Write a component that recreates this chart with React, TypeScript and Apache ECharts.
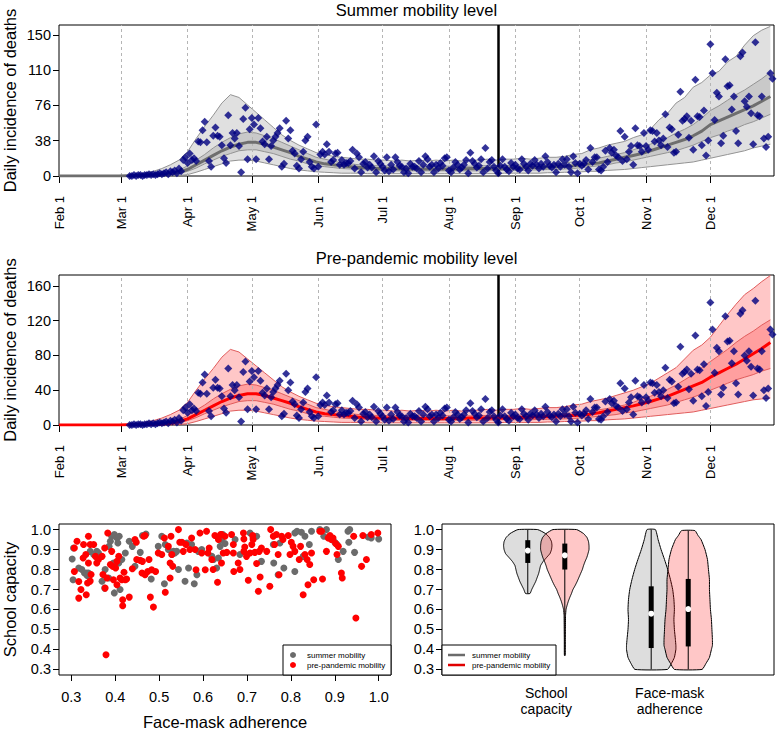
import { useEffect, useRef } from "react";
import * as echarts from "echarts";

const FONT = '"Liberation Sans", Arial, Helvetica, sans-serif';

// ---------- time axis ----------
const monthDays = [0, 29, 60, 90, 121, 151, 182, 213, 243, 274, 304];
const monthLabels = ["Feb 1", "Mar 1", "Apr 1", "May 1", "Jun 1", "Jul 1", "Aug 1", "Sep 1", "Oct 1", "Nov 1", "Dec 1"];
const interventionDay = 205;

const summerTickValues = [0, 37.75, 75.5, 113.25, 151];
const summerTickLabels = ["0", "38", "76", "110", "150"];
const prepTickValues = [0, 40, 80, 120, 160];
const prepTickLabels = ["0", "40", "80", "120", "160"];

// ---------- observed daily deaths (first value = day 33, i.e. Mar 5) ----------
const observedFirstDay = 33;
const observedDeaths = [
  0, 0, 1, 0, 1, 1, 0, 1, 1, 2,
  1, 2, 1, 2, 3, 2, 3, 4, 2, 5,
  4, 6, 3, 8, 5, 17, 20, 14, 24, 17,
  19, 16, 37, 36, 49, 58, 36, 16, 10, 43,
  52, 43, 42, 33, 19, 14, 65, 33, 46, 40,
  46, 32, 4, 61, 73, 18, 50, 62, 55, 18,
  62, 51, 37, 34, 42, 18, 32, 38, 42, 46,
  51, 10, 13, 59, 40, 49, 27, 24, 11, 8,
  18, 26, 38, 42, 15, 10, 8, 55, 10, 23,
  26, 23, 34, 26, 15, 17, 24, 25, 12, 17,
  12, 14, 14, 16, 28, 8, 24, 20, 4, 13,
  15, 9, 12, 9, 21, 4, 16, 13, 10, 6,
  20, 5, 12, 7, 20, 15, 11, 10, 4, 8,
  3, 13, 10, 10, 8, 16, 4, 12, 21, 18,
  10, 12, 4, 12, 8, 14, 11, 19, 20, 6,
  4, 9, 15, 12, 7, 9, 12, 17, 3, 25,
  16, 13, 9, 11, 18, 4, 30, 8, 15, 17,
  10, 6, 3, 11, 18, 10, 7, 5, 14, 10,
  12, 8, 7, 18, 13, 10, 6, 13, 11, 17,
  12, 8, 13, 10, 21, 15, 11, 9, 12, 4,
  13, 10, 18, 12, 18, 10, 4, 21, 14, 3,
  13, 11, 13, 17, 7, 30, 15, 20, 20, 7,
  6, 10, 27, 15, 30, 25, 28, 22, 20, 48,
  16, 42, 18, 26, 32, 12, 51, 33, 32, 26,
  46, 32, 28, 49, 48, 37, 46, 38, 33, 40,
  66, 31, 52, 50, 25, 26, 44, 90, 59, 61,
  64, 41, 59, 28, 103, 64, 63, 33, 70, 22,
  38, 141, 110, 60, 89, 85, 35, 43, 125, 96,
  97, 71, 85, 48, 35, 128, 132, 80, 74, 85,
  67, 34, 143, 65, 64, 85, 40, 31, 42, 110, 104,
];

// ---------- projection bands (days since Feb 1) ----------
const bandDays = [0, 28, 32, 36, 40, 44, 48, 52, 56, 60, 64, 68, 72, 76, 80, 84, 88, 92, 96, 100, 104, 108, 112, 116, 120, 124, 128, 132, 136, 140, 144, 148, 152, 156, 160, 164, 168, 172, 176, 180, 184, 188, 192, 196, 200, 204, 208, 212, 216, 220, 224, 228, 232, 236, 240, 244, 248, 252, 256, 260, 264, 268, 272, 276, 280, 284, 288, 292, 296, 300, 304, 308, 312, 316, 320, 324, 328, 332];

const summerMed = [0, 0, 0.2, 0.3, 0.5, 0.8, 1.2, 2, 4, 7, 12, 17, 22, 27, 31, 34, 36, 36, 34, 31, 28, 25, 21, 18, 15, 13, 12, 11, 10, 9, 9, 8, 8, 8, 7.5, 7.5, 7.5, 7.5, 7.5, 7.5, 7.5, 7.5, 8, 8, 8, 8, 8, 8.5, 8.5, 9, 9, 9.5, 10, 10.5, 11, 12, 13, 14, 16, 18, 20, 22, 24, 27, 30, 33, 36, 39, 43, 48, 55, 59, 63, 67, 71, 75, 80, 85];
const summerLo50 = [0, 0, 0, 0.1, 0.2, 0.4, 0.6, 1, 2.5, 5, 8.5, 13, 17, 21, 24, 27, 28, 28, 26, 24, 21, 18, 16, 13, 11, 10, 9, 8, 7.5, 7, 6.5, 6, 6, 5.5, 5.5, 5.5, 5.5, 5.5, 5.5, 5.5, 5.5, 5.5, 5.5, 5.5, 5.5, 6, 6, 6, 6, 6.5, 6.5, 7, 7, 7.5, 8, 9, 10, 11, 12, 14, 15, 17, 19, 21, 23, 25, 27, 30, 33, 37, 41, 44, 48, 51, 55, 58, 62, 66];
const summerHi50 = [0, 0, 0.5, 0.7, 1, 1.4, 2, 3, 6, 11, 17, 23, 30, 36, 41, 45, 47, 46, 43, 40, 36, 32, 28, 24, 20, 18, 16, 14, 13, 12, 11.5, 11, 11, 10.5, 10.5, 10.5, 10.5, 10.5, 10.5, 10.5, 10.5, 10.5, 10.5, 11, 11, 11, 11, 11.5, 11.5, 12, 12, 12.5, 13, 14, 15, 16, 17.5, 19, 21, 23, 25, 28, 31, 34, 38, 41, 46, 50, 55, 62, 70, 75, 81, 87, 92, 98, 104, 111];
const summerLo95 = [0, 0, 0, 0, 0, 0, 0, 0, 0.5, 1.5, 4, 7, 10, 13, 16, 17, 17, 16, 14, 12, 10, 8, 6.5, 5.5, 4.5, 4, 3.5, 3, 3, 3, 2.5, 2.5, 2.5, 2.5, 2.5, 2.5, 2.5, 2.5, 2.5, 2.5, 2.5, 2.5, 2.5, 2.5, 2.5, 2.5, 3, 3, 3, 3, 3, 3.5, 3.5, 4, 4, 4.5, 5, 5, 6, 6.5, 7, 8, 9, 10, 11, 12, 13, 14, 15, 17, 19, 21, 23, 25, 27, 30, 32, 34];
const summerHi95 = [0, 0, 0.5, 1.5, 3, 5, 8, 12, 17, 26, 40, 53, 65, 78, 87, 84, 76, 68, 60, 52, 44, 38, 33, 29, 25, 23, 21, 20, 19, 18, 18, 17, 17, 16, 17, 16, 17, 16, 17, 16, 17, 16, 17, 17, 18, 17, 18, 18, 19, 18, 19, 20, 20, 21, 23, 24, 28, 30, 33, 35, 37, 41, 44, 50, 60, 67, 78, 84, 95, 100, 108, 112, 122, 128, 140, 150, 156, 160];

const prepMed = [0, 0, 0.2, 0.3, 0.5, 0.8, 1.2, 2, 4, 7, 12, 17, 22, 27, 31, 34, 36, 36, 34, 31, 28, 25, 21, 18, 15, 13, 12, 11, 10, 9, 9, 8, 8, 8, 7.5, 7.5, 7.5, 7.5, 7.5, 7.5, 7.5, 7.5, 8, 8, 8, 8, 8, 8.5, 8.5, 9, 9.5, 9.5, 10, 10.5, 11, 11.5, 12.5, 14, 16, 18, 20, 22, 24.5, 27, 30, 33, 37, 41, 45, 49, 55, 60, 65, 70, 76, 82, 88, 95];
const prepLo50 = [0, 0, 0, 0.1, 0.2, 0.4, 0.6, 1, 2.5, 5, 8.5, 13, 17, 21, 24, 27, 28, 28, 26, 24, 21, 18, 16, 13, 11, 10, 9, 8, 7.5, 7, 6.5, 6, 6, 5.5, 5.5, 5.5, 5.5, 5.5, 5.5, 5.5, 5.5, 5.5, 5.5, 5.5, 5.5, 6, 6, 6, 6, 6, 6.5, 6.5, 7, 7, 7.5, 8, 9, 10, 11, 12, 14, 15, 17, 19, 21, 23, 26, 29, 32, 36, 40, 44, 48, 52, 55, 58, 62, 65];
const prepHi50 = [0, 0, 0.5, 0.7, 1, 1.4, 2, 3, 6, 11, 17, 23, 30, 36, 41, 45, 47, 46, 43, 40, 36, 32, 28, 24, 20, 18, 16, 14, 13, 12, 11.5, 11, 11, 10.5, 10.5, 10.5, 10.5, 10.5, 10.5, 10.5, 10.5, 10.5, 10.5, 11, 11, 11, 11, 11, 11.5, 11.5, 12, 12, 12.5, 13, 14, 15, 16, 17.5, 19, 21, 23, 26, 30, 33, 37, 41, 46, 52, 58, 66, 73, 80, 87, 95, 102, 108, 115, 121];
const prepLo95 = [0, 0, 0, 0, 0, 0, 0, 0, 0.5, 1.5, 4, 7, 10, 13, 16, 17, 17, 16, 14, 12, 10, 8, 6.5, 5.5, 4.5, 4, 3.5, 3, 3, 3, 2.5, 2.5, 2.5, 2.5, 2.5, 2.5, 2.5, 2.5, 2.5, 2.5, 2.5, 2.5, 2.5, 2.5, 2.5, 2.5, 3, 3, 3, 3, 3, 3.5, 3.5, 4, 4, 4.5, 5, 5, 6, 6.5, 7, 8, 9, 10, 11, 12, 13, 14, 15, 17, 19, 21, 23, 25, 27, 29, 30, 31];
const prepHi95 = [0, 0, 0.5, 1.5, 3, 5, 8, 12, 17, 26, 40, 53, 65, 78, 87, 84, 76, 68, 60, 52, 44, 38, 33, 29, 25, 23, 21, 20, 19, 18, 18, 17, 17, 16, 17, 16, 17, 16, 17, 16, 17, 16, 17, 17, 18, 17, 18, 18, 19, 18, 19, 20, 20, 21, 23, 24, 27, 29, 31, 34, 37, 40, 44, 48, 54, 60, 66, 76, 86, 92, 101, 114, 127, 139, 150, 157, 165, 172];

// ---------- scatter: [face-mask adherence, school capacity] ----------
const summerPoints = [
  [0.302, 0.853], [0.304, 0.749], [0.305, 0.908], [0.317, 0.808], [0.324, 0.8], [0.33, 0.783], [0.335, 0.783], [0.336, 0.77], [0.339, 0.783], [0.343, 0.891],
  [0.351, 0.875], [0.358, 0.891], [0.362, 0.883], [0.37, 0.741], [0.376, 0.707], [0.377, 0.8], [0.385, 0.758], [0.386, 0.916], [0.389, 0.942], [0.392, 0.967],
  [0.398, 0.975], [0.404, 0.958], [0.409, 0.967], [0.398, 0.683], [0.406, 0.933], [0.411, 0.7], [0.396, 0.833], [0.408, 0.833], [0.415, 0.85], [0.423, 0.883],
  [0.432, 0.942], [0.439, 0.916], [0.445, 0.816], [0.457, 0.886], [0.462, 0.97], [0.47, 0.978], [0.482, 0.753], [0.498, 0.916], [0.506, 0.967], [0.512, 0.729],
  [0.514, 0.925], [0.521, 0.9], [0.529, 0.875], [0.533, 0.891], [0.536, 0.883], [0.54, 0.891], [0.544, 0.8], [0.563, 0.933], [0.567, 0.808], [0.574, 0.925],
  [0.559, 0.741], [0.58, 0.729], [0.586, 0.774], [0.589, 0.891], [0.597, 0.9], [0.62, 0.866], [0.624, 0.85], [0.631, 0.808], [0.635, 0.858], [0.642, 0.95],
  [0.639, 0.916], [0.645, 0.975], [0.65, 0.93], [0.673, 0.95], [0.684, 0.875], [0.707, 0.983], [0.714, 0.958], [0.722, 0.967], [0.733, 0.841], [0.76, 0.925],
  [0.761, 0.833], [0.771, 0.774], [0.775, 0.933], [0.784, 0.808], [0.809, 0.79], [0.809, 0.983], [0.814, 0.992], [0.824, 0.987], [0.828, 0.866], [0.832, 0.967],
  [0.842, 0.925], [0.847, 0.992], [0.866, 1.0], [0.875, 0.967], [0.881, 1.0], [0.9, 0.937], [0.905, 0.925], [0.908, 0.85], [0.919, 0.891], [0.93, 0.992],
  [0.934, 1.0], [0.932, 0.937], [0.945, 0.886], [0.976, 0.963], [0.983, 0.958], [1.0, 0.953],
];
const prepPoints = [
  [0.307, 0.908], [0.313, 0.942], [0.307, 0.79], [0.317, 0.74], [0.317, 0.657], [0.322, 0.7], [0.334, 0.674], [0.327, 0.858], [0.328, 0.925], [0.339, 0.967],
  [0.343, 0.925], [0.333, 0.875], [0.339, 0.833], [0.337, 0.733], [0.343, 0.742], [0.351, 0.925], [0.355, 0.866], [0.358, 0.833], [0.345, 0.775], [0.362, 0.85],
  [0.37, 0.866], [0.372, 0.775], [0.376, 0.908], [0.377, 0.707], [0.381, 0.758], [0.379, 0.373], [0.383, 0.983], [0.389, 0.825], [0.392, 0.891], [0.394, 0.816],
  [0.396, 0.749], [0.401, 0.808], [0.404, 0.841], [0.404, 0.724], [0.408, 0.866], [0.411, 0.758], [0.415, 0.749], [0.417, 0.649], [0.417, 0.619], [0.42, 0.786],
  [0.423, 0.749], [0.426, 0.753], [0.432, 0.662], [0.439, 0.804], [0.445, 0.95], [0.448, 0.937], [0.449, 0.85], [0.457, 0.846], [0.462, 0.841], [0.465, 0.967],
  [0.468, 0.97], [0.461, 0.783], [0.468, 0.774], [0.48, 0.662], [0.487, 0.612], [0.477, 0.85], [0.474, 0.79], [0.483, 0.799], [0.492, 0.79], [0.498, 0.883],
  [0.506, 0.875], [0.512, 0.958], [0.514, 0.686], [0.521, 0.916], [0.525, 0.758], [0.527, 0.967], [0.529, 0.875], [0.525, 0.833], [0.531, 0.816], [0.544, 1.0],
  [0.547, 0.937], [0.552, 0.937], [0.555, 0.891], [0.561, 0.925], [0.57, 0.9], [0.574, 0.958], [0.582, 0.9], [0.584, 0.799], [0.593, 0.983], [0.597, 0.883],
  [0.605, 0.799], [0.608, 0.992], [0.611, 0.883], [0.614, 0.908], [0.62, 0.85], [0.623, 0.8], [0.627, 0.97], [0.635, 0.95], [0.633, 0.736], [0.642, 0.833],
  [0.64, 0.975], [0.642, 0.975], [0.646, 0.883], [0.65, 0.967], [0.654, 0.886], [0.665, 0.975], [0.669, 0.925], [0.669, 0.883], [0.67, 0.79], [0.68, 0.833],
  [0.684, 0.8], [0.692, 0.983], [0.693, 0.953], [0.695, 0.913], [0.693, 0.891], [0.699, 0.866], [0.703, 0.746], [0.707, 0.883], [0.711, 0.925], [0.713, 0.97],
  [0.714, 0.95], [0.718, 0.886], [0.722, 0.83], [0.726, 0.691], [0.73, 0.763], [0.728, 0.891], [0.733, 0.908], [0.745, 0.891], [0.752, 0.716], [0.754, 1.0],
  [0.76, 0.967], [0.763, 0.925], [0.767, 0.975], [0.771, 0.875], [0.773, 0.774], [0.779, 0.967], [0.782, 0.95], [0.794, 0.97], [0.798, 0.875], [0.801, 0.937],
  [0.805, 0.916], [0.809, 0.891], [0.819, 0.85], [0.822, 0.916], [0.828, 0.674], [0.832, 0.875], [0.837, 0.85], [0.839, 0.724], [0.843, 0.825], [0.847, 0.883],
  [0.852, 0.749], [0.866, 0.992], [0.87, 0.992], [0.872, 0.753], [0.881, 0.891], [0.885, 0.958], [0.889, 0.97], [0.892, 0.95], [0.896, 0.958], [0.902, 0.93],
  [0.905, 0.875], [0.908, 0.916], [0.915, 0.783], [0.917, 0.758], [0.943, 0.967], [0.948, 0.557], [0.961, 0.816], [0.972, 0.85], [0.964, 0.97], [0.983, 0.975],
  [0.998, 0.983],
];

// ---------- violins: value levels and relative density ----------
const schoolSummerY = [1.0, 0.98, 0.96, 0.94, 0.92, 0.9, 0.88, 0.86, 0.84, 0.82, 0.8, 0.78, 0.76, 0.74, 0.72, 0.7, 0.68];
const schoolSummerD = [0.4, 0.72, 0.88, 0.96, 0.98, 0.96, 0.9, 0.76, 0.62, 0.52, 0.48, 0.44, 0.38, 0.32, 0.24, 0.16, 0.09];
const schoolPrepY = [1.0, 0.98, 0.96, 0.94, 0.92, 0.9, 0.88, 0.86, 0.84, 0.82, 0.8, 0.78, 0.76, 0.74, 0.72, 0.7, 0.68, 0.66, 0.64, 0.62, 0.6, 0.57, 0.5, 0.45, 0.4, 0.37];
const schoolPrepD = [0.48, 0.76, 0.9, 0.96, 0.98, 0.98, 0.94, 0.89, 0.82, 0.76, 0.71, 0.64, 0.57, 0.5, 0.42, 0.33, 0.27, 0.2, 0.14, 0.09, 0.05, 0.03, 0.024, 0.02, 0.02, 0.016];
const maskSummerY = [1.0, 0.95, 0.9, 0.85, 0.8, 0.75, 0.7, 0.65, 0.6, 0.55, 0.5, 0.45, 0.42, 0.4, 0.36, 0.33, 0.3];
const maskSummerD = [0.17, 0.28, 0.4, 0.54, 0.67, 0.78, 0.87, 0.92, 0.94, 0.92, 0.94, 0.98, 1.0, 1.0, 0.94, 0.82, 0.66];
const maskPrepY = [0.995, 0.97, 0.95, 0.9, 0.85, 0.8, 0.75, 0.7, 0.65, 0.6, 0.55, 0.5, 0.45, 0.42, 0.4, 0.36, 0.33, 0.3];
const maskPrepD = [0.27, 0.4, 0.52, 0.68, 0.78, 0.82, 0.86, 0.86, 0.88, 0.9, 0.94, 0.96, 0.98, 0.98, 0.94, 0.86, 0.72, 0.56];
// [min, q1, median, q3, max]
const schoolSummerStats = [0.68, 0.833, 0.895, 0.947, 1.0];
const schoolPrepStats = [0.37, 0.8, 0.871, 0.93, 1.0];
const maskSummerStats = [0.3, 0.407, 0.579, 0.716, 1.0];
const maskPrepStats = [0.3, 0.415, 0.602, 0.753, 0.995];
const violinPositions = [0.85, 1.85, 1.15, 2.15];
const violinCategories = [1, 2];
const violinCategoryLabels = ["School\ncapacity", "Face-mask\nadherence"];

const unitTicks = [0.3, 0.4, 0.5, 0.6, 0.7, 0.8, 0.9, 1.0];
const unitTickLabels = ["0.3", "0.4", "0.5", "0.6", "0.7", "0.8", "0.9", "1.0"];

// ---------- styles ----------
const GRAY = "#6b6b6b";
const RED = "#ff0000";
const NAVY = "#00007f";
const violinHalfWidth = 0.2;

function labelFrom(values: number[], labels: string[]) {
  return (v: number) => {
    const i = values.findIndex((t) => Math.abs(t - v) < 1e-6);
    return i >= 0 ? labels[i] : "";
  };
}

const tickLabelStyle = { fontSize: 14.5, color: "#000", fontFamily: FONT };

function timeXAxis(gi: number) {
  return {
    type: "value", gridIndex: gi, min: 0, max: 333.7,
    axisLine: { show: false }, splitLine: { show: false },
    axisTick: { show: true, customValues: monthDays, length: 7, lineStyle: { color: "#000", width: 1 } },
    axisLabel: { ...tickLabelStyle, fontSize: 13, customValues: monthDays, rotate: 90, margin: 20, formatter: labelFrom(monthDays, monthLabels) },
  };
}
function countYAxis(gi: number, max: number, ticks: number[], labels: string[]) {
  return {
    type: "value", gridIndex: gi, min: 0, max,
    axisLine: { show: false }, splitLine: { show: false },
    axisTick: { show: true, customValues: ticks, length: 6, lineStyle: { color: "#000", width: 1 } },
    axisLabel: { ...tickLabelStyle, customValues: ticks, margin: 8, formatter: labelFrom(ticks, labels) },
    name: "Daily incidence of deaths", nameLocation: "middle", nameGap: 41, nameMoveOverlap: false,
    nameTextStyle: { fontSize: 16.5, color: "#000", fontFamily: FONT },
  };
}
function unitAxis(gi: number, name?: string, gap?: number, labelMargin = 8) {
  return {
    type: "value", gridIndex: gi, min: 0.272, max: 1.028,
    axisLine: { show: false }, splitLine: { show: false },
    axisTick: { show: true, customValues: unitTicks, length: 6, lineStyle: { color: "#000", width: 1 } },
    axisLabel: { ...tickLabelStyle, customValues: unitTicks, margin: labelMargin, formatter: labelFrom(unitTicks, unitTickLabels) },
    name, nameLocation: "middle", nameGap: gap, nameMoveOverlap: false,
    nameTextStyle: { fontSize: 16.5, color: "#000", fontFamily: FONT },
  };
}

function bandPolygon(gi: number, lo: number[], hi: number[], fill: string, z: number) {
  return {
    type: "custom", xAxisIndex: gi, yAxisIndex: gi, z, silent: true, clip: true,
    data: [[bandDays[0], lo[0]]],
    renderItem: (_p: any, api: any) => {
      const pts: number[][] = [];
      for (let i = 0; i < bandDays.length; i++) pts.push(api.coord([bandDays[i], hi[i]]));
      for (let i = bandDays.length - 1; i >= 0; i--) pts.push(api.coord([bandDays[i], lo[i]]));
      return { type: "polygon", shape: { points: pts }, style: { fill, stroke: "none" } };
    },
  };
}
function bandLine(gi: number, vals: number[], color: string, width: number, z: number) {
  return {
    type: "line", xAxisIndex: gi, yAxisIndex: gi, z, silent: true, symbol: "none", showSymbol: false,
    data: bandDays.map((d, i) => [d, vals[i]]),
    lineStyle: { color, width },
  };
}

function timePanel(gi: number, med: number[], lo50: number[], hi50: number[], lo95: number[], hi95: number[],
  outer: string, inner: string, edge: string, medColor: string) {
  return [
    {
      type: "line", xAxisIndex: gi, yAxisIndex: gi, z: 1, silent: true, symbol: "none",
      data: [[0, 0]], lineStyle: { opacity: 0 },
      markLine: {
        silent: true, symbol: ["none", "none"], label: { show: false }, animation: false,
        lineStyle: { color: "#b5b5b5", type: [3, 3], width: 1 },
        data: monthDays.slice(1).map((d) => ({ xAxis: d })),
      },
    },
    bandPolygon(gi, lo95, hi95, outer, 2),
    bandPolygon(gi, lo50, hi50, inner, 3),
    bandLine(gi, hi95, edge, 1, 4),
    bandLine(gi, lo95, edge, 1, 4),
    bandLine(gi, hi50, edge, 1, 4),
    bandLine(gi, lo50, edge, 1, 4),
    bandLine(gi, med, medColor, 3, 5),
    {
      type: "scatter", xAxisIndex: gi, yAxisIndex: gi, z: 6, silent: true,
      symbol: "diamond", symbolSize: 8, itemStyle: { color: NAVY },
      data: observedDeaths.map((v, i) => [observedFirstDay + i, v]),
    },
    {
      type: "line", xAxisIndex: gi, yAxisIndex: gi, z: 7, silent: true, symbol: "none",
      data: [[0, 0]], lineStyle: { opacity: 0 },
      markLine: {
        silent: true, symbol: ["none", "none"], label: { show: false }, animation: false,
        lineStyle: { color: "#000", type: "solid", width: 2.5 },
        data: [{ xAxis: interventionDay }],
      },
    },
  ];
}

const violins = [
  { y: schoolSummerY, d: schoolSummerD, s: schoolSummerStats, fill: "rgba(120,120,120,0.25)" },
  { y: maskSummerY, d: maskSummerD, s: maskSummerStats, fill: "rgba(120,120,120,0.25)" },
  { y: schoolPrepY, d: schoolPrepD, s: schoolPrepStats, fill: "rgba(255,0,0,0.22)" },
  { y: maskPrepY, d: maskPrepD, s: maskPrepStats, fill: "rgba(255,0,0,0.22)" },
];

function buildOption() {
  const legendText = (text: string, x: number, y: number) => ({
    type: "text", x, y, z: 101,
    style: { text, fontSize: 8, fontFamily: FONT, fill: "#000", align: "left", verticalAlign: "middle" },
  });
  const gridBase = { show: true, borderColor: "#000", borderWidth: 1, containLabel: false, outerBoundsMode: "none" };
  return {
    animation: false,
    backgroundColor: "#fff",
    textStyle: { fontFamily: FONT },
    grid: [
      { ...gridBase, left: 59, top: 25, width: 715, height: 151 },
      { ...gridBase, left: 59, top: 275, width: 715, height: 150 },
      { ...gridBase, left: 59, top: 524, width: 332, height: 151 },
      { ...gridBase, left: 442, top: 524, width: 332, height: 151 },
    ],
    xAxis: [
      timeXAxis(0),
      timeXAxis(1),
      unitAxis(2, "Face-mask adherence", 38, 14),
      {
        type: "value", gridIndex: 3, min: 0.155, max: 2.845,
        axisLine: { show: false }, splitLine: { show: false }, axisTick: { show: false },
        axisLabel: { ...tickLabelStyle, fontSize: 14, lineHeight: 16, customValues: violinCategories, margin: 10, formatter: labelFrom(violinCategories, violinCategoryLabels) },
      },
    ],
    yAxis: [
      countYAxis(0, 161.5, summerTickValues, summerTickLabels),
      countYAxis(1, 172.6, prepTickValues, prepTickLabels),
      unitAxis(2, "School capacity", 41),
      unitAxis(3),
    ],
    series: [
      ...timePanel(0, summerMed, summerLo50, summerHi50, summerLo95, summerHi95,
        "rgba(0,0,0,0.12)", "rgba(0,0,0,0.10)", "#939393", "#6e6e6e"),
      ...timePanel(1, prepMed, prepLo50, prepHi50, prepLo95, prepHi95,
        "rgba(255,0,0,0.22)", "rgba(255,0,0,0.20)", "#e05c5c", RED),
      {
        type: "scatter", xAxisIndex: 2, yAxisIndex: 2, silent: true, z: 2,
        symbolSize: 7, itemStyle: { color: GRAY, opacity: 1 }, data: summerPoints,
      },
      {
        type: "scatter", xAxisIndex: 2, yAxisIndex: 2, silent: true, z: 3,
        symbolSize: 7, itemStyle: { color: RED, opacity: 1 }, data: prepPoints,
      },
      {
        type: "custom", xAxisIndex: 3, yAxisIndex: 3, silent: true, z: 2,
        data: violinPositions.map((c, k) => [c, violins[k].s[2], k]),
        renderItem: (_p: any, api: any) => {
          const c = api.value(0);
          const v = violins[api.value(2)];
          const left = v.y.map((y, j) => api.coord([c - v.d[j] * violinHalfWidth, y]));
          const right = v.y.map((y, j) => api.coord([c + v.d[j] * violinHalfWidth, y])).reverse();
          const wTop = api.coord([c, v.s[4]]);
          const wBot = api.coord([c, v.s[0]]);
          const q3 = api.coord([c, v.s[3]]);
          const q1 = api.coord([c, v.s[1]]);
          const md = api.coord([c, v.s[2]]);
          return {
            type: "group",
            children: [
              { type: "polygon", shape: { points: [...left, ...right], smooth: 0.15 }, style: { fill: v.fill, stroke: "#000", lineWidth: 1 } },
              { type: "line", shape: { x1: wTop[0], y1: wTop[1], x2: wBot[0], y2: wBot[1] }, style: { stroke: "#000", lineWidth: 1 } },
              { type: "rect", shape: { x: q3[0] - 2.5, y: q3[1], width: 5, height: q1[1] - q3[1] }, style: { fill: "#000" } },
              { type: "circle", shape: { cx: md[0], cy: md[1], r: 3 }, style: { fill: "#fff" } },
            ],
          };
        },
      },
    ],
    graphic: [
      { type: "text", x: 416.5, y: 10, style: { text: "Summer mobility level", fontSize: 16.5, fontFamily: FONT, fill: "#000", align: "center", verticalAlign: "middle" } },
      { type: "text", x: 416.5, y: 258, style: { text: "Pre-pandemic mobility level", fontSize: 16.5, fontFamily: FONT, fill: "#000", align: "center", verticalAlign: "middle" } },
      // scatter legend
      { type: "rect", z: 100, shape: { x: 283, y: 645, width: 108, height: 30 }, style: { fill: "#fff", stroke: "#000", lineWidth: 1 } },
      { type: "circle", z: 101, shape: { cx: 293, cy: 655, r: 3 }, style: { fill: GRAY } },
      { type: "circle", z: 101, shape: { cx: 293, cy: 665, r: 3 }, style: { fill: RED } },
      legendText("summer mobility", 307, 655),
      legendText("pre-pandemic mobility", 307, 665),
      // violin legend
      { type: "rect", z: 100, shape: { x: 442, y: 645, width: 114, height: 30 }, style: { fill: "#fff", stroke: "#000", lineWidth: 1 } },
      { type: "line", z: 101, shape: { x1: 448, y1: 655, x2: 465, y2: 655 }, style: { stroke: GRAY, lineWidth: 2.5 } },
      { type: "line", z: 101, shape: { x1: 448, y1: 665, x2: 465, y2: 665 }, style: { stroke: "#e00000", lineWidth: 2.5 } },
      legendText("summer mobility", 472, 655),
      legendText("pre-pandemic mobility", 472, 665),
    ],
  };
}

export default function App() {
  const ref = useRef<HTMLDivElement>(null);
  useEffect(() => {
    const chart = echarts.init(ref.current!, null, { renderer: "svg" });
    chart.setOption(buildOption() as any);
    return () => chart.dispose();
  }, []);
  return (
    <div
      ref={ref}
      style={{ position: "fixed", left: 0, top: 0, width: 777, height: 732, background: "#fff" }}
    />
  );
}
